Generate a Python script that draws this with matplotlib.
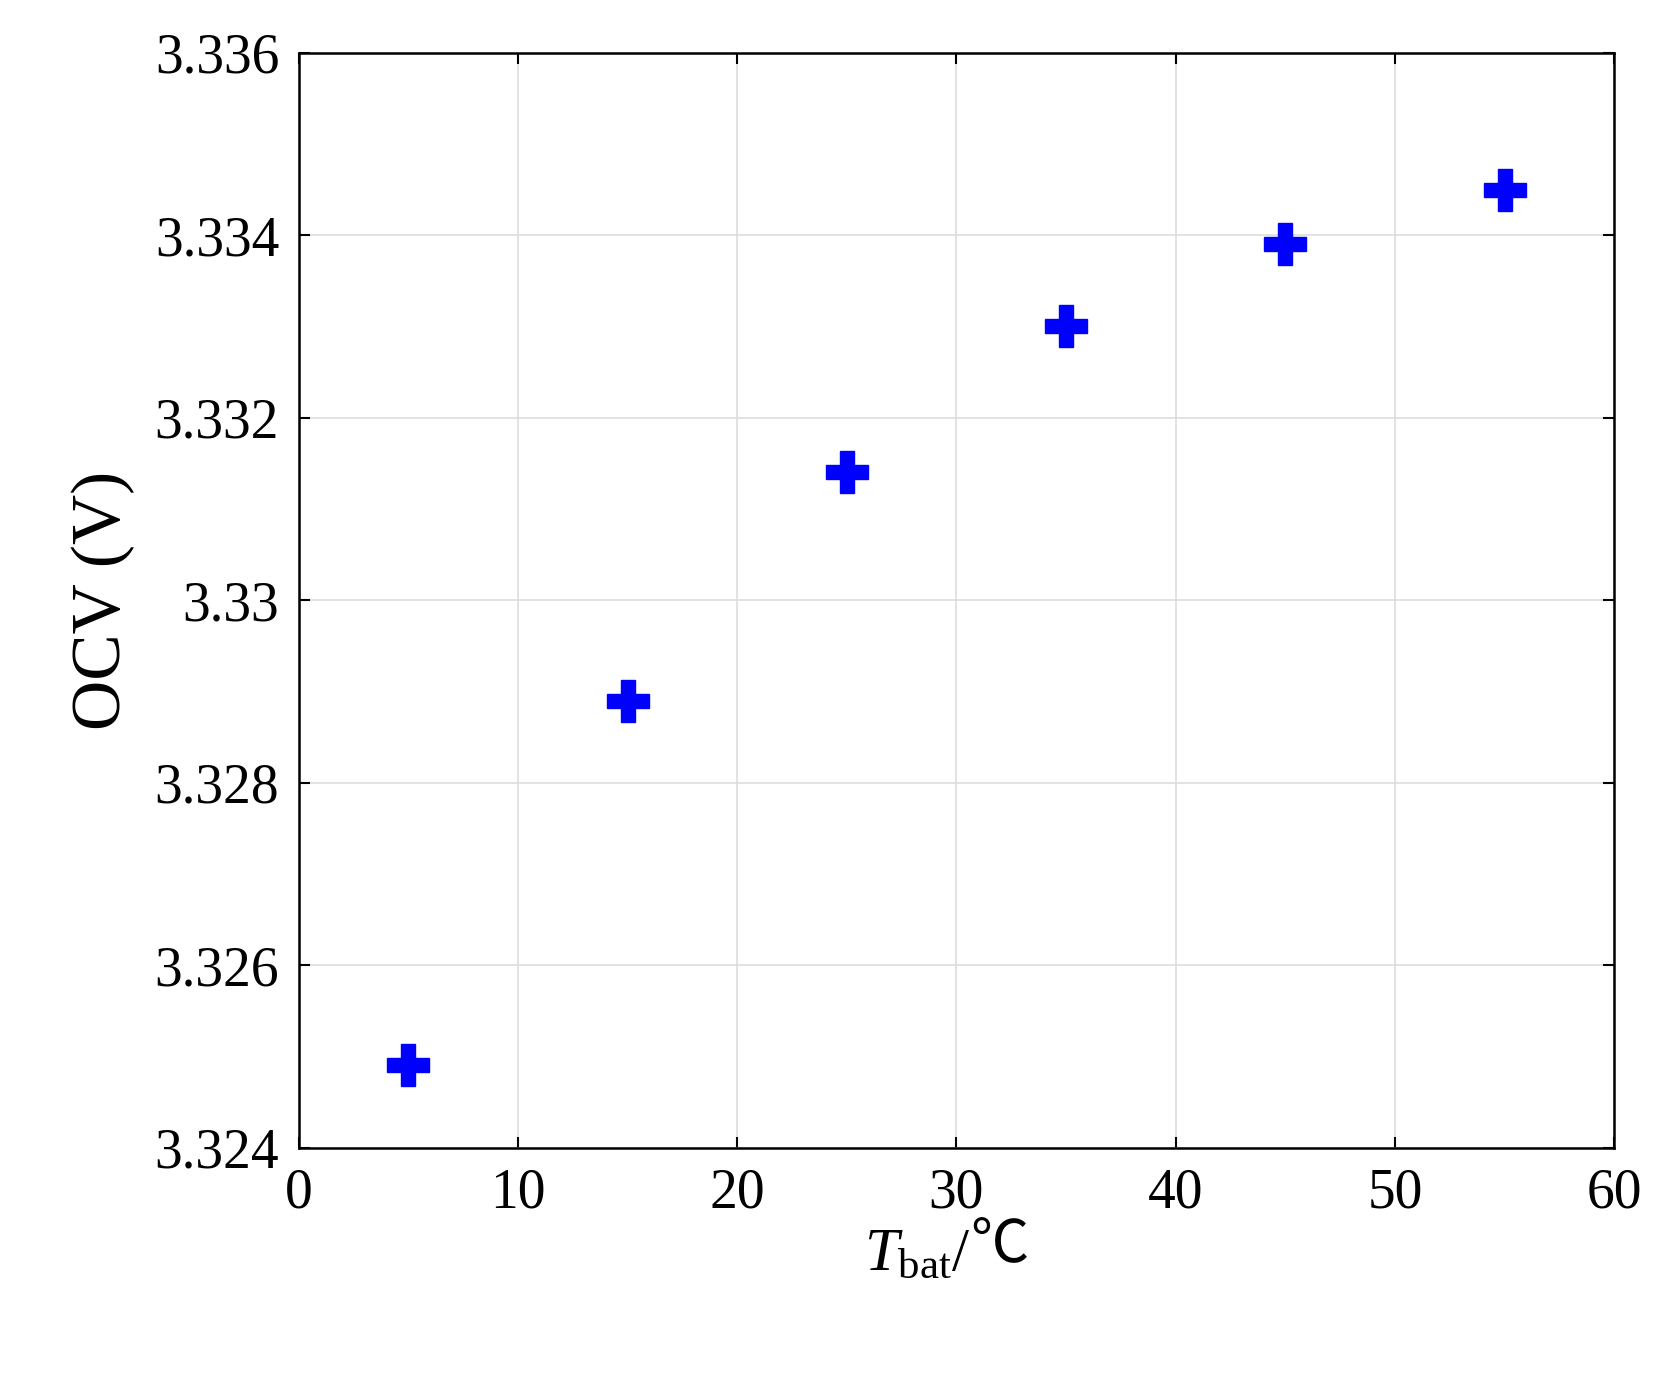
import matplotlib

matplotlib.use("Agg")
import matplotlib.pyplot as plt
from matplotlib.ticker import FuncFormatter

plt.rcParams["font.family"] = ["Liberation Serif", "Noto Sans CJK SC", "DejaVu Sans"]
plt.rcParams["mathtext.fontset"] = "custom"
plt.rcParams["mathtext.rm"] = "Liberation Serif"
plt.rcParams["mathtext.it"] = "Liberation Serif:italic"

temps = [5, 15, 25, 35, 45, 55]
ocv = [3.3249, 3.3289, 3.3314, 3.3330, 3.3339, 3.3345]

fig = plt.figure(figsize=(16.59, 13.86), dpi=100)
ax = fig.add_axes([0.18, 0.172, 0.793, 0.79])
ax.plot(temps, ocv, linestyle="none", marker="P", markersize=30, color="#0000ff",
        markeredgecolor="#0000ff")
ax.set_xlim(0, 60)
ax.set_ylim(3.324, 3.336)
ax.set_xticks(range(0, 61, 10))
ax.set_yticks([3.324, 3.326, 3.328, 3.33, 3.332, 3.334, 3.336])
ax.yaxis.set_major_formatter(FuncFormatter(lambda v, p: f"{v:.3f}".rstrip("0")))
ax.grid(True, color="#dddddd", lw=1.2)
ax.tick_params(labelsize=40, direction="in", length=8, width=1.5, top=True, right=True,
               pad=14)
for s in ax.spines.values():
    s.set_linewidth(1.8)
ax.set_ylabel("OCV (V)", fontsize=50, labelpad=14)
ax.set_xlabel("$T_{\\rm bat}$/", fontsize=44, labelpad=6)
ax.xaxis.label.set_x(0.47)
ax.annotate("℃", xy=(1, 0.13), xycoords=ax.xaxis.label, fontsize=42,
            ha="left", va="bottom", family=["Noto Sans CJK SC", "DejaVu Sans"])
fig.savefig("out.png", dpi=100)
